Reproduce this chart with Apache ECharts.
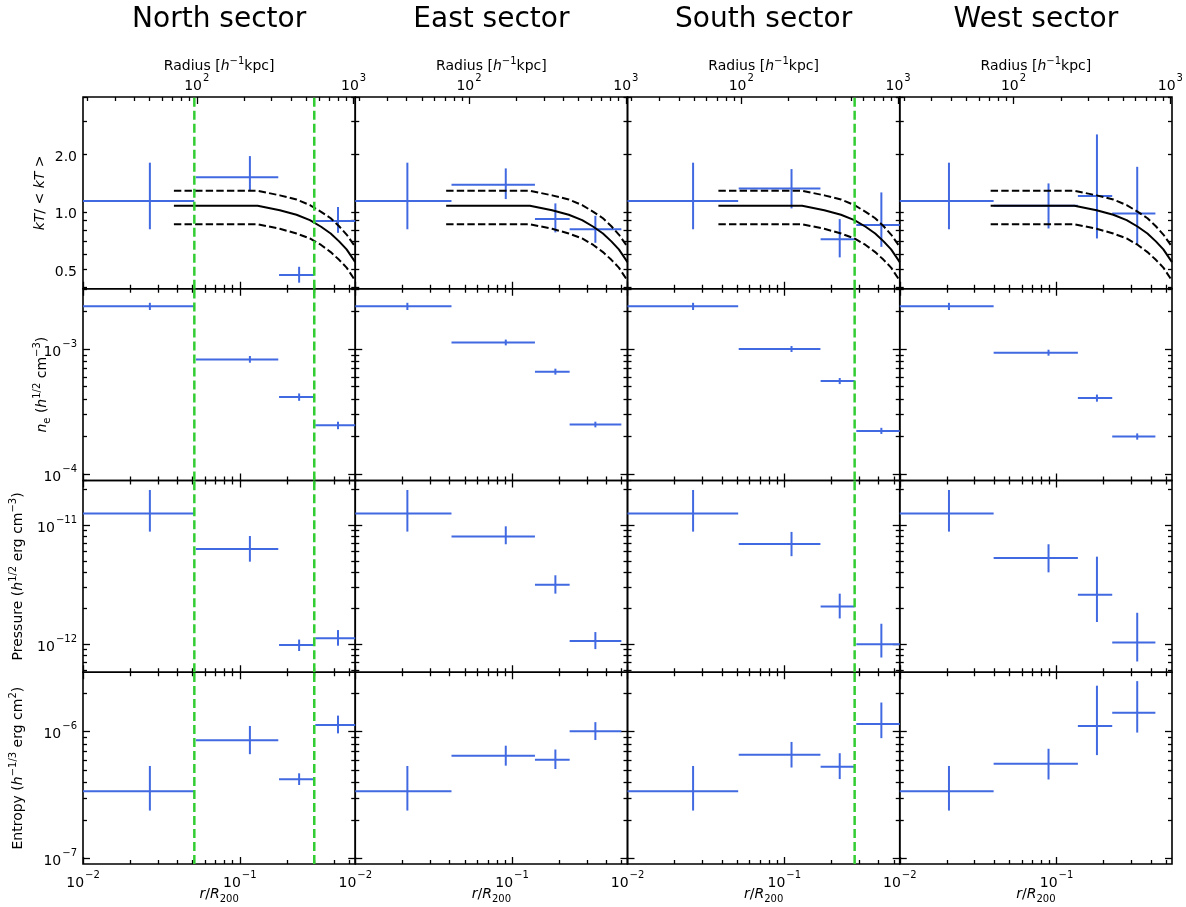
<!DOCTYPE html>
<html><head><meta charset="utf-8">
<script src="https://cdn.jsdelivr.net/npm/echarts@6/dist/echarts.min.js"></script>
<style>html,body{margin:0;padding:0;background:#fff}#c{width:1186px;height:907px}</style>
</head><body><div id="c"></div>
<script>
// ---------------- data ----------------
const sectors = ['North sector', 'East sector', 'South sector', 'West sector'];

// radial bins: [centre, lower edge, upper edge] in r/R200
const northR = [[0.0267, 0.004, 0.0512], [0.116, 0.0525, 0.176], [0.239, 0.178, 0.297], [0.423, 0.303, 0.7]];
const eastR  = [[0.0215, 0.004, 0.0411], [0.0912, 0.0411, 0.140], [0.189, 0.140, 0.233], [0.340, 0.233, 0.498]];
const southR = [[0.0262, 0.004, 0.0508], [0.1112, 0.0512, 0.170], [0.2257, 0.1705, 0.281], [0.416, 0.288, 0.7]];
const westR  = [[0.0206, 0.004, 0.0397], [0.0889, 0.0397, 0.1368], [0.181, 0.1368, 0.2265], [0.327, 0.2265, 0.427]];

// [value, lower, upper]
const northKT = [[1.14, 0.81, 1.81], [1.52, 1.30, 1.96], [0.466, 0.425, 0.515], [0.894, 0.776, 1.06]];
const eastKT  = [[1.14, 0.81, 1.81], [1.386, 1.166, 1.689], [0.916, 0.780, 1.107], [0.809, 0.688, 0.953]];
const southKT = [[1.14, 0.81, 1.81], [1.327, 1.042, 1.675], [0.719, 0.577, 0.916], [0.852, 0.655, 1.264]];
const westKT  = [[1.14, 0.81, 1.81], [1.075, 0.818, 1.409], [1.209, 0.725, 2.546], [0.981, 0.677, 1.722]];

const northNe = [[2.20e-3, 2.05e-3, 2.34e-3], [8.27e-4, 7.78e-4, 8.8e-4], [4.14e-4, 3.86e-4, 4.42e-4], [2.46e-4, 2.29e-4, 2.63e-4]];
const eastNe  = [[2.20e-3, 2.05e-3, 2.34e-3], [1.13e-3, 1.07e-3, 1.19e-3], [6.6e-4, 6.25e-4, 6.97e-4], [2.5e-4, 2.37e-4, 2.63e-4]];
const southNe = [[2.20e-3, 2.05e-3, 2.34e-3], [1.0e-3, 9.47e-4, 1.057e-3], [5.55e-4, 5.25e-4, 5.87e-4], [2.22e-4, 2.1e-4, 2.35e-4]];
const westNe  = [[2.20e-3, 2.05e-3, 2.34e-3], [9.35e-4, 8.85e-4, 9.88e-4], [4.06e-4, 3.8e-4, 4.33e-4], [2.0e-4, 1.89e-4, 2.12e-4]];

const northP = [[1.25e-11, 8.8e-12, 1.97e-11], [6.28e-12, 4.92e-12, 8.08e-12], [9.8e-13, 8.73e-13, 1.09e-12], [1.12e-12, 9.68e-13, 1.31e-12]];
const eastP  = [[1.25e-11, 8.8e-12, 1.97e-11], [8.0e-12, 6.89e-12, 9.75e-12], [3.15e-12, 2.65e-12, 3.78e-12], [1.06e-12, 9.06e-13, 1.26e-12]];
const southP = [[1.25e-11, 8.8e-12, 1.97e-11], [6.93e-12, 5.47e-12, 8.75e-12], [2.07e-12, 1.64e-12, 2.65e-12], [9.95e-13, 7.7e-13, 1.48e-12]];
const westP  = [[1.25e-11, 8.8e-12, 1.97e-11], [5.27e-12, 4.0e-12, 6.89e-12], [2.59e-12, 1.53e-12, 5.42e-12], [1.03e-12, 7.13e-13, 1.83e-12]];

const northK = [[3.39e-7, 2.38e-7, 5.36e-7], [8.55e-7, 6.64e-7, 1.11e-6], [4.21e-7, 3.79e-7, 4.69e-7], [1.13e-6, 9.7e-7, 1.34e-6]];
const eastK  = [[3.39e-7, 2.38e-7, 5.36e-7], [6.44e-7, 5.39e-7, 7.75e-7], [6.01e-7, 5.07e-7, 7.23e-7], [1.01e-6, 8.59e-7, 1.19e-6]];
const southK = [[3.39e-7, 2.38e-7, 5.36e-7], [6.57e-7, 5.21e-7, 8.3e-7], [5.28e-7, 4.22e-7, 6.76e-7], [1.15e-6, 8.89e-7, 1.70e-6]];
const westK  = [[3.39e-7, 2.38e-7, 5.36e-7], [5.58e-7, 4.19e-7, 7.33e-7], [1.11e-6, 6.53e-7, 2.31e-6], [1.41e-6, 9.84e-7, 2.51e-6]];

// vertical green markers (r/R200)
const northMarks = [0.0513, 0.2986];
const eastMarks = [];
const southMarks = [0.281];
const westMarks = [];

// temperature model (kT/<kT>) and its envelope
const modelR   = [0.038, 0.13, 0.18, 0.23, 0.28, 0.33, 0.38, 0.43, 0.48, 0.545];
const modelMid = [1.075, 1.075, 1.02, 0.965, 0.905, 0.835, 0.77, 0.70, 0.635, 0.545];
const modelHi  = [1.29, 1.29, 1.22, 1.16, 1.085, 1.0, 0.925, 0.84, 0.76, 0.655];
const modelLo  = [0.86, 0.86, 0.815, 0.77, 0.725, 0.67, 0.615, 0.56, 0.51, 0.435];

// axes
const xRange = [0.01, 0.545];
const r200kpc = 1880;               // kpc/h corresponding to r/R200 = 1
const xMajor = [0.01, 0.1];
const xMinor = [0.02, 0.03, 0.04, 0.05, 0.06, 0.07, 0.08, 0.09, 0.2, 0.3, 0.4, 0.5];
const kpcMajor = [100, 1000];
const kpcMinor = [20, 30, 40, 50, 60, 70, 80, 90, 200, 300, 400, 500, 600, 700, 800, 900];

const yRanges = [[0.395, 4.0], [8.92e-5, 3.03e-3], [5.79e-13, 2.366e-11], [9.0e-8, 2.95e-6]];
const yMajors = [[], [1e-4, 1e-3], [1e-12, 1e-11], [1e-7, 1e-6]];
const yMinors = [
  [0.4, 0.5, 0.6, 0.7, 0.8, 0.9, 1, 2, 3, 4],
  [9e-5, 2e-4, 3e-4, 4e-4, 5e-4, 6e-4, 7e-4, 8e-4, 9e-4, 2e-3, 3e-3],
  [6e-13, 7e-13, 8e-13, 9e-13, 2e-12, 3e-12, 4e-12, 5e-12, 6e-12, 7e-12, 8e-12, 9e-12, 2e-11],
  [2e-7, 3e-7, 4e-7, 5e-7, 6e-7, 7e-7, 8e-7, 9e-7, 2e-6]
];
const yLabelValues = [[0.5, 1, 2], [1e-4, 1e-3], [1e-12, 1e-11], [1e-7, 1e-6]];
const yNames = [
  '{i|kT}/ < {i|kT} >',
  '{i|n}{sub|e} ({i|h}{sup|1/2} cm{sup|−3})',
  'Pressure ({i|h}{sup|1/2} erg cm{sup|−3})',
  'Entropy ({i|h}{sup|−1/3} erg cm{sup|2})'
];

// ---------------- layout ----------------
const FONT = 'DejaVu Sans';
const BLUE = '#4169E1', GREEN = '#32CD32';
const gridLeft = [83, 355.25, 627.5, 899.75], gridW = 272.25;
const gridTop = [97, 288.75, 480.5, 672.25], gridH = 191.75;
const yNameGap = [33, 31, 55, 55];

const rbins = [northR, eastR, southR, westR];
const rowsData = [
  [northKT, eastKT, southKT, westKT],
  [northNe, eastNe, southNe, westNe],
  [northP, eastP, southP, westP],
  [northK, eastK, southK, westK]
];
const marks = [northMarks, eastMarks, southMarks, westMarks];

const rich = {
  b: {fontSize: 14, fontFamily: FONT, color: '#000', lineHeight: 20, verticalAlign: 'bottom'},
  s: {fontSize: 10, fontFamily: FONT, color: '#000', lineHeight: 20, verticalAlign: 'top', padding: [0, 0, 0, 1]},
  i: {fontSize: 14, fontFamily: FONT, fontStyle: 'italic', color: '#000', lineHeight: 20},
  n: {fontSize: 14, fontFamily: FONT, color: '#000', lineHeight: 20},
  sup: {fontSize: 10, fontFamily: FONT, color: '#000', lineHeight: 20, verticalAlign: 'top'},
  sub: {fontSize: 10, fontFamily: FONT, color: '#000', lineHeight: 12, verticalAlign: 'bottom', padding: [6, 0, 0, 0]}
};
const nameStyle = {color: '#000', fontSize: 14, fontFamily: FONT, lineHeight: 20, rich: rich};

function powLabel(v) {
  const e = Math.round(Math.log10(v));
  return '{b|10}{s|' + String(e).replace('-', '−') + '}';
}

function tickAxis(common, vals, len, extra) {
  return Object.assign({}, common, {
    axisLine: {show: false},
    splitLine: {show: false},
    nameMoveOverlap: false,
    axisTick: {show: true, inside: true, length: len, customValues: vals, lineStyle: {color: '#000', width: 1.3}},
    axisLabel: {show: false}
  }, extra || {});
}

const grids = [], xAxes = [], yAxes = [], series = [];
for (let r = 0; r < 4; r++) {
  for (let c = 0; c < 4; c++) {
    const g = grids.length;
    grids.push({left: gridLeft[c], top: gridTop[r], width: gridW, height: gridH,
      show: true, borderColor: '#000', borderWidth: 1.6, backgroundColor: 'transparent', containLabel: false});
    const xc = {type: 'log', gridIndex: g, min: xRange[0], max: xRange[1]};
    // bottom axes
    xAxes.push(tickAxis(xc, xMajor, 7, Object.assign({position: 'bottom'},
      r === 3 ? {
        axisLabel: {show: true, customValues: xMajor, margin: 6, formatter: powLabel, rich: rich},
        name: '{i|r}/{i|R}{sub|200}', nameLocation: 'middle', nameGap: 20,
        nameTextStyle: nameStyle
      } : {})));
    xAxes.push(tickAxis(xc, xMinor, 4, {position: 'bottom'}));
    // top axes
    if (r === 0) {
      const kc = {type: 'log', gridIndex: g, min: xRange[0] * r200kpc, max: xRange[1] * r200kpc};
      xAxes.push(tickAxis(kc, kpcMajor, 7, {position: 'top',
        axisLabel: {show: true, customValues: kpcMajor, margin: 4, formatter: powLabel, rich: rich},
        name: 'Radius [{i|h}{sup|−1}kpc]', nameLocation: 'middle', nameGap: 21,
        nameTextStyle: nameStyle}));
      xAxes.push(tickAxis(kc, kpcMinor, 4, {position: 'top'}));
    } else {
      xAxes.push(tickAxis(xc, xMajor, 7, {position: 'top'}));
      xAxes.push(tickAxis(xc, xMinor, 4, {position: 'top'}));
    }
    const yc = {type: 'log', gridIndex: g, min: yRanges[r][0], max: yRanges[r][1]};
    yAxes.push(tickAxis(yc, yMajors[r], 7, Object.assign({position: 'left'},
      c === 0 ? {
        axisLabel: {show: true, customValues: yLabelValues[r], margin: 6,
          formatter: r === 0 ? (v => '{b|' + v.toFixed(1) + '}') : powLabel, rich: rich},
        name: yNames[r], nameLocation: 'middle', nameGap: yNameGap[r],
        nameTextStyle: nameStyle
      } : {})));
    yAxes.push(tickAxis(yc, yMinors[r], 4, {position: 'left'}));
    yAxes.push(tickAxis(yc, yMajors[r], 7, {position: 'right'}));
    yAxes.push(tickAxis(yc, yMinors[r], 4, {position: 'right'}));

    const xi = 4 * g, yi = 4 * g;
    // error bars
    const pts = rowsData[r][c].map((d, k) => [rbins[c][k][0], d[0], rbins[c][k][1], rbins[c][k][2], d[1], d[2]]);
    series.push({
      type: 'custom', xAxisIndex: xi, yAxisIndex: yi, z: 3,
      encode: {x: 0, y: 1},
      data: pts,
      renderItem: function (params, api) {
        const cs = params.coordSys;
        const cx = v => Math.max(cs.x, Math.min(cs.x + cs.width, v));
        const cy = v => Math.max(cs.y, Math.min(cs.y + cs.height, v));
        const x = api.value(0), y = api.value(1);
        const pL = api.coord([api.value(2), y]), pR = api.coord([api.value(3), y]);
        const pT = api.coord([x, api.value(5)]), pB = api.coord([x, api.value(4)]);
        return {type: 'group', children: [
          {type: 'line', shape: {x1: cx(pL[0]), y1: pL[1], x2: cx(pR[0]), y2: pR[1]}, style: {stroke: BLUE, lineWidth: 2}},
          {type: 'line', shape: {x1: pT[0], y1: cy(pT[1]), x2: pB[0], y2: cy(pB[1])}, style: {stroke: BLUE, lineWidth: 2}}
        ]};
      }
    });
    if (r === 0) {
      [[modelMid, 'solid'], [modelHi, [7.4, 3.2]], [modelLo, [7.4, 3.2]]].forEach(([arr, ty]) => {
        series.push({type: 'line', xAxisIndex: xi, yAxisIndex: yi, z: 4, symbol: 'none', silent: true,
          data: modelR.map((x, k) => [x, arr[k]]),
          lineStyle: {color: '#000', width: 2, type: ty}});
      });
    }
    marks[c].forEach(v => {
      series.push({type: 'line', xAxisIndex: xi, yAxisIndex: yi, z: 5, symbol: 'none', silent: true,
        data: [[v, yRanges[r][0]], [v, yRanges[r][1]]],
        lineStyle: {color: GREEN, width: 2.5, type: [9, 4]}});
    });
  }
}

const graphic = sectors.map((s, i) => ({
  type: 'text', x: gridLeft[i] + gridW / 2, y: 20,
  style: {text: s, fontSize: 28, fontFamily: FONT, fill: '#000', align: 'center', verticalAlign: 'middle'}
}));

const chart = echarts.init(document.getElementById('c'), null, {renderer: 'canvas'});
chart.setOption({
  animation: false,
  backgroundColor: '#fff',
  textStyle: {fontFamily: FONT},
  grid: grids, xAxis: xAxes, yAxis: yAxes, series: series, graphic: graphic
});
</script></body></html>
